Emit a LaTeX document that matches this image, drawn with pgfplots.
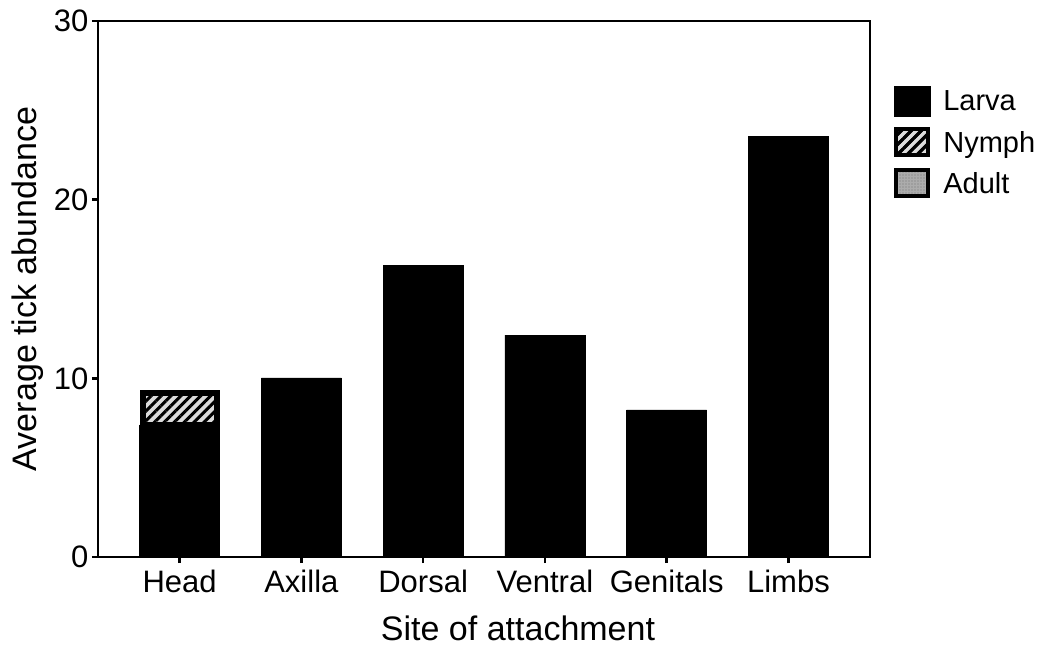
\documentclass[border=0pt]{standalone}
\usepackage{pgfplots}
\pgfplotsset{compat=1.18}
\usepackage{fontspec}
\setmainfont{Liberation Sans}
\usetikzlibrary{patterns.meta}
\begin{document}
\begin{tikzpicture}
\begin{axis}[
  at={(0pt,0pt)}, anchor=south west,
  scale only axis, width=772pt, height=536pt,
  xmin=-0.67, xmax=5.67, ymin=0, ymax=30,
  ybar stacked,
  xtick={0,1,2,3,4,5},
  xticklabels={Head,Axilla,Dorsal,Ventral,Genitals,Limbs},
  ytick={0,10,20,30},
  tick pos=left, tick align=outside,
  major tick length=6pt,
  axis line style={line width=2.7pt},
  every tick/.style={line width=2.5pt, black},
  /pgf/number format/assume math mode=true,
  tick label style={font=\fontsize{31}{33}\selectfont},
  xticklabel style={yshift=-4pt},
  xlabel={Site of attachment},
  ylabel={Average tick abundance},
  label style={font=\fontsize{34}{36}\selectfont},
  xlabel style={at={(axis description cs:0.5,0)}, anchor=center, xshift=34pt, yshift=-71pt},
  ylabel style={at={(axis description cs:0,0.5)}, anchor=center, yshift=70pt},
  legend style={at={(axis description cs:1.031,0.879)}, anchor=north west, draw=none, fill=none,
    font=\fontsize{29}{31}\selectfont, inner sep=0pt, row sep=11pt,
    nodes={inner sep=0pt, anchor=west}},
  legend cell align=left,
]
\addplot[fill=black, draw=black, bar width=80pt,
  legend image code/.code={\draw[fill=black,draw=black] (0pt,-15pt) rectangle (36pt,15pt); \path (46pt,0pt);}]
  coordinates {(0,7.39) (1,10.02) (2,16.34) (3,12.42) (4,8.23) (5,23.56)};
\addlegendentry{Larva}
\addplot[fill=gray!28, draw=black, line width=6pt, bar width=74pt,
  postaction={pattern={Lines[angle=45,distance=7pt,line width=3pt]}, pattern color=black},
  legend image code/.code={\draw[fill=gray!28,draw=black,line width=4pt,
     postaction={pattern={Lines[angle=45,distance=7pt,line width=3pt]}, pattern color=black}]
     (2pt,-13pt) rectangle (34pt,13pt); \path (46pt,0pt);}]
  coordinates {(0,1.79)};
\addlegendentry{Nymph}
\addlegendimage{legend image code/.code={\draw[fill=gray!65,draw=black,line width=4pt,
     postaction={pattern={Dots[distance=3pt,radius=0.7pt]}, pattern color=black!55}]
     (2pt,-13pt) rectangle (34pt,13pt); \path (46pt,0pt);}}
\addlegendentry{Adult}
\end{axis}
\pgfresetboundingbox
\useasboundingbox (-98pt,-89pt) rectangle (947pt,557pt);
\end{tikzpicture}
\end{document}
